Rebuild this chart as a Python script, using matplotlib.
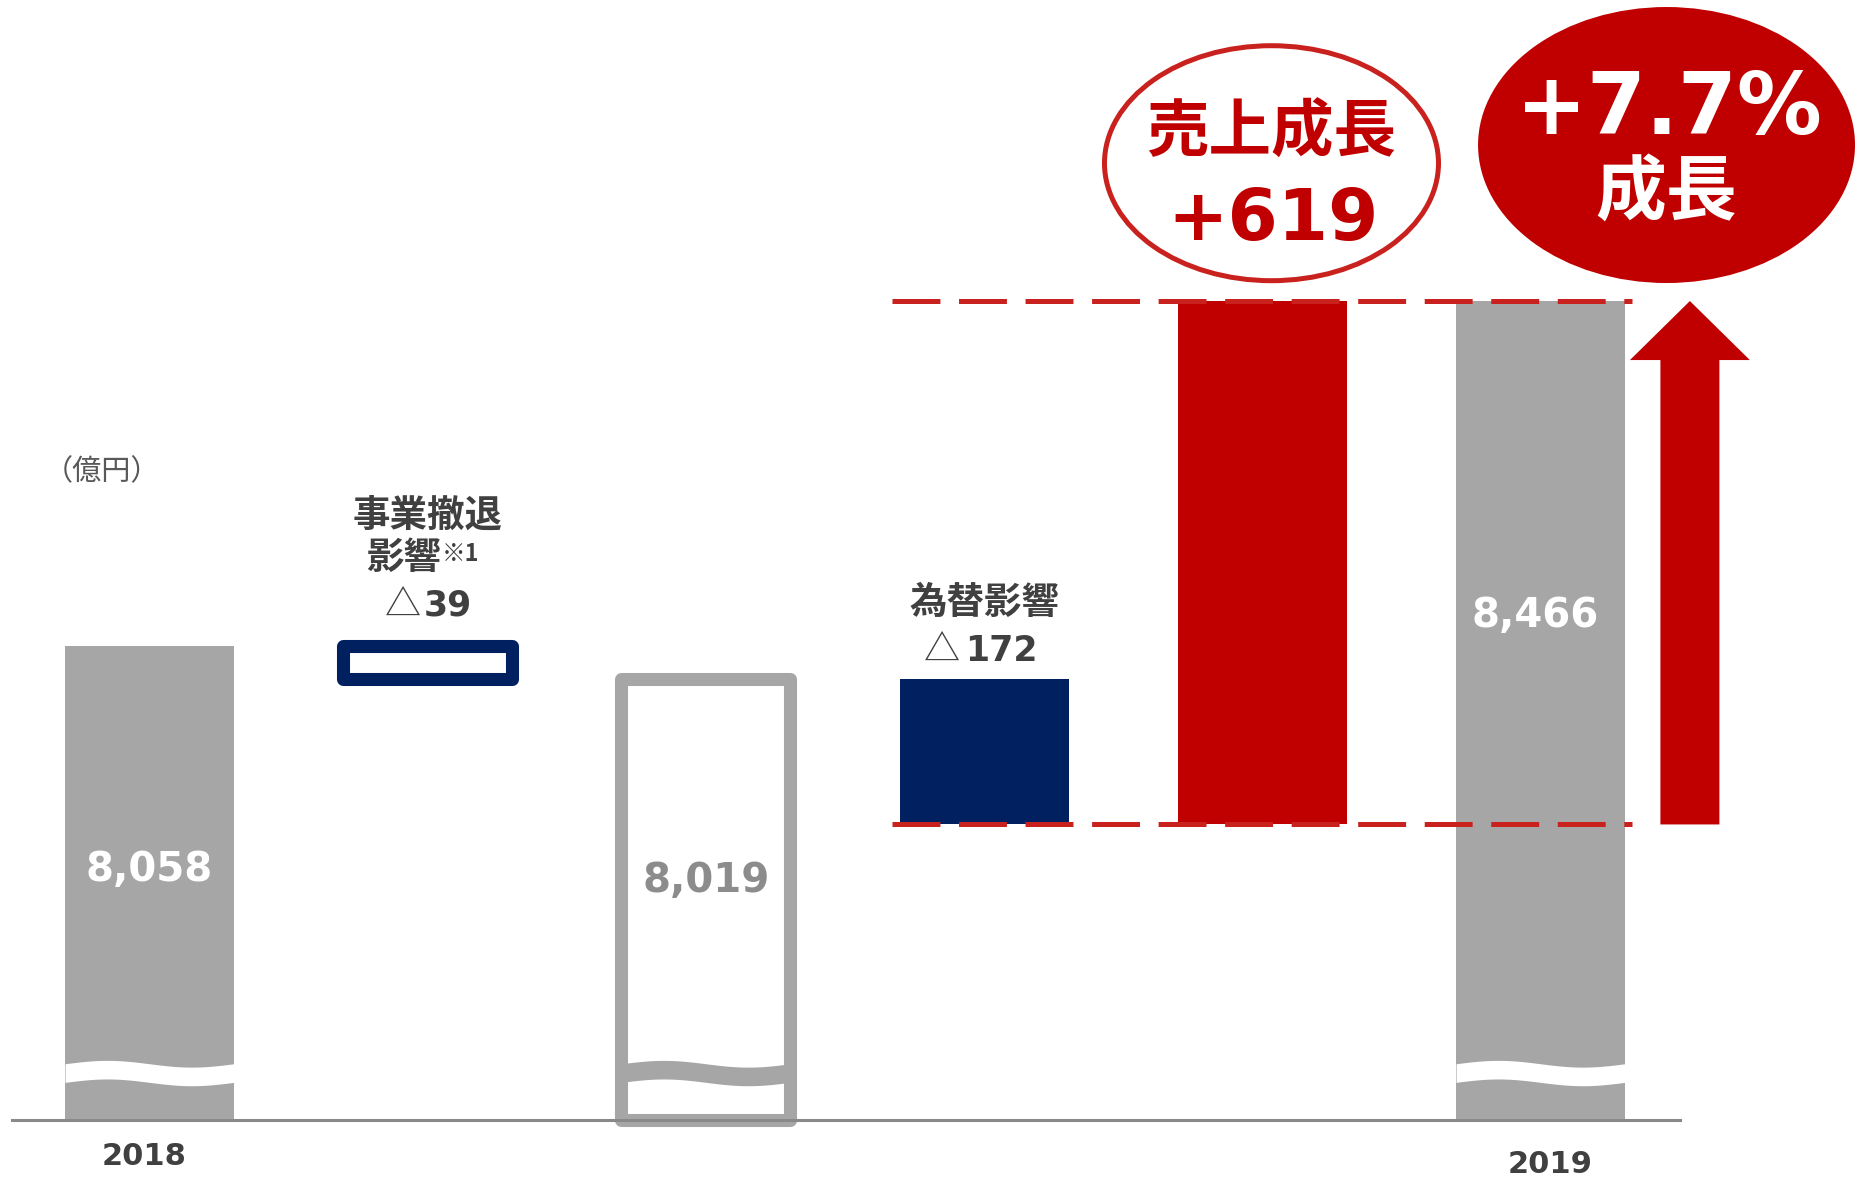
import numpy as np
import matplotlib
matplotlib.use("Agg")
import matplotlib.pyplot as plt
from matplotlib.patches import Ellipse, FancyArrow

plt.rcParams["lines.scale_dashes"] = False

# 売上収益の増減（億円）
years = ["2018", "2019"]
sales_2018 = 8058
exit_impact = -39      # 事業撤退影響
fx_impact = -172       # 為替影響
growth = 619           # 売上成長
sales_2019 = 8466
growth_rate = 7.7      # %

sub_total = sales_2018 + exit_impact   # 8,019
fx_bottom = sub_total + fx_impact      # 7,847

GRAY = "#a6a6a6"
NAVY = "#002060"
RED = "#c00000"
LINE_RED = "#c9211e"
TEXT = "#404040"
JP = ["Noto Sans CJK JP", "DejaVu Sans"]
NUM = ["DejaVu Sans"]

fig = plt.figure(figsize=(18.65, 11.79), dpi=100)
ax = fig.add_axes([0, 0, 1, 1])
ax.set_xlim(-0.5374, 6.1664)
ax.set_ylim(7427.7, 8822)
ax.axis("off")

x = np.arange(6)
w = 0.607
floor = 7497.5   # broken axis, bars start here

# totals
ax.bar(x[0], sales_2018 - floor, w, bottom=floor, color=GRAY, zorder=2)
ax.bar(x[5], sales_2019 - floor, w, bottom=floor, color=GRAY, zorder=2)

# outlined steps
sub = ax.bar(x[2], sub_total - floor, w, bottom=floor, facecolor="white",
             edgecolor=GRAY, linewidth=9.4, zorder=2)
ex = ax.bar(x[1], exit_impact, w, bottom=sales_2018, facecolor="white",
            edgecolor=NAVY, linewidth=9.4, zorder=2)
for p in list(sub) + list(ex):
    p.set_joinstyle("round")

ax.bar(x[3], fx_impact, w, bottom=sub_total, color=NAVY, zorder=2)
ax.bar(x[4], growth, w, bottom=fx_bottom, color=RED, zorder=2)

# wavy break marks
t = np.linspace(0, 1, 200)
def wave(xc, color):
    xs = xc - w / 2 + w * t
    mid = 7553 + 4 * np.sin(2 * np.pi * t)
    ax.fill_between(xs, mid - 11, mid + 11, color=color, lw=0, zorder=3)

wave(x[0], "white")
wave(x[2], GRAY)
wave(x[5], "white")

# baseline
ax.plot([-0.494, 5.50], [floor, floor], color="#898989", lw=2.2, zorder=4)

# dashed guides
x0, x1 = x[3] - 0.33, x[5] + 0.33
for yv in (sales_2019, fx_bottom):
    ax.plot([x0, x1], [yv, yv], color=LINE_RED, lw=3.6, dashes=[34.5, 13.4],
            dash_capstyle="butt", zorder=4)

# growth arrow
ax.add_patch(FancyArrow(x[5] + 0.537, fx_bottom, 0, growth, width=0.212,
                        head_width=0.431, head_length=69.8,
                        length_includes_head=True, color=RED, lw=0, zorder=2))

# value labels in bars
ax.text(x[0], 7793, f"{sales_2018:,}", ha="center", va="center", fontsize=29,
        fontweight="bold", color="white", family=NUM, zorder=6)
ax.text(x[2], 7780, f"{sub_total:,}", ha="center", va="center", fontsize=29,
        fontweight="bold", color="#8c8c8c", family=NUM, zorder=6)
ax.text(x[5] - 0.02, 8094, f"{sales_2019:,}", ha="center", va="center", fontsize=29,
        fontweight="bold", color="white", family=NUM, zorder=6)

# unit
ax.text(-0.171, 8263, "（億円）", ha="center", va="center", fontsize=21,
        color="#595959", family=JP)

# 事業撤退影響
ax.text(x[1], 8213, "事業撤退", ha="center", va="center", fontsize=27,
        fontweight="bold", color=TEXT, family=JP)
ax.annotate("影響", (x[1], 8163), xytext=(10, 0), textcoords="offset points",
            ha="right", va="center", fontsize=27, fontweight="bold",
            color=TEXT, family=JP)
ax.annotate("※1", (x[1], 8163), xytext=(10, 2), textcoords="offset points",
            ha="left", va="center", fontsize=17, fontweight="bold",
            color=TEXT, family=JP)
ax.annotate("△", (x[1], 8106), xytext=(-5, 0), textcoords="offset points",
            ha="right", va="center", fontsize=26, color=TEXT, family=JP)
ax.annotate(f"{abs(exit_impact)}", (x[1], 8106), xytext=(-3, 0),
            textcoords="offset points", ha="left", va="center", fontsize=25,
            fontweight="bold", color=TEXT, family=NUM)

# 為替影響
ax.text(x[3], 8110, "為替影響", ha="center", va="center", fontsize=27,
        fontweight="bold", color=TEXT, family=JP)
ax.annotate("△", (x[3], 8052), xytext=(-17, 0), textcoords="offset points",
            ha="right", va="center", fontsize=26, color=TEXT, family=JP)
ax.annotate(f"{abs(fx_impact)}", (x[3], 8052), xytext=(-14, 0),
            textcoords="offset points", ha="left", va="center", fontsize=25,
            fontweight="bold", color=TEXT, family=NUM)

# callouts
ax.add_patch(Ellipse((4.033, 8629), 1.2006, 277.9, facecolor="white",
                     edgecolor=LINE_RED, lw=3.6, zorder=5))
ax.text(4.033, 8665, "売上成長", ha="center", va="center", fontsize=45,
        fontweight="bold", color=RED, family=JP, zorder=6)
ax.text(4.04, 8561, f"+{growth}", ha="center", va="center", fontsize=52,
        fontweight="bold", color=RED, family=NUM, zorder=6)

ax.add_patch(Ellipse((5.453, 8650.5), 1.355, 326.4, facecolor=RED,
                     edgecolor="none", zorder=5))
ax.text(5.46, 8691, f"+{growth_rate}%", ha="center", va="center", fontsize=61,
        fontweight="bold", color="white", family=NUM, zorder=6)
ax.text(5.45, 8593, "成長", ha="center", va="center", fontsize=51,
        fontweight="bold", color="white", family=JP, zorder=6)

# years
ax.text(x[0] - 0.02, 7454, years[0], ha="center", va="center", fontsize=22,
        fontweight="bold", color=TEXT, family=NUM)
ax.text(x[5] + 0.036, 7445, years[1], ha="center", va="center", fontsize=22,
        fontweight="bold", color=TEXT, family=NUM)

fig.savefig("out.png", dpi=100, facecolor="white")
